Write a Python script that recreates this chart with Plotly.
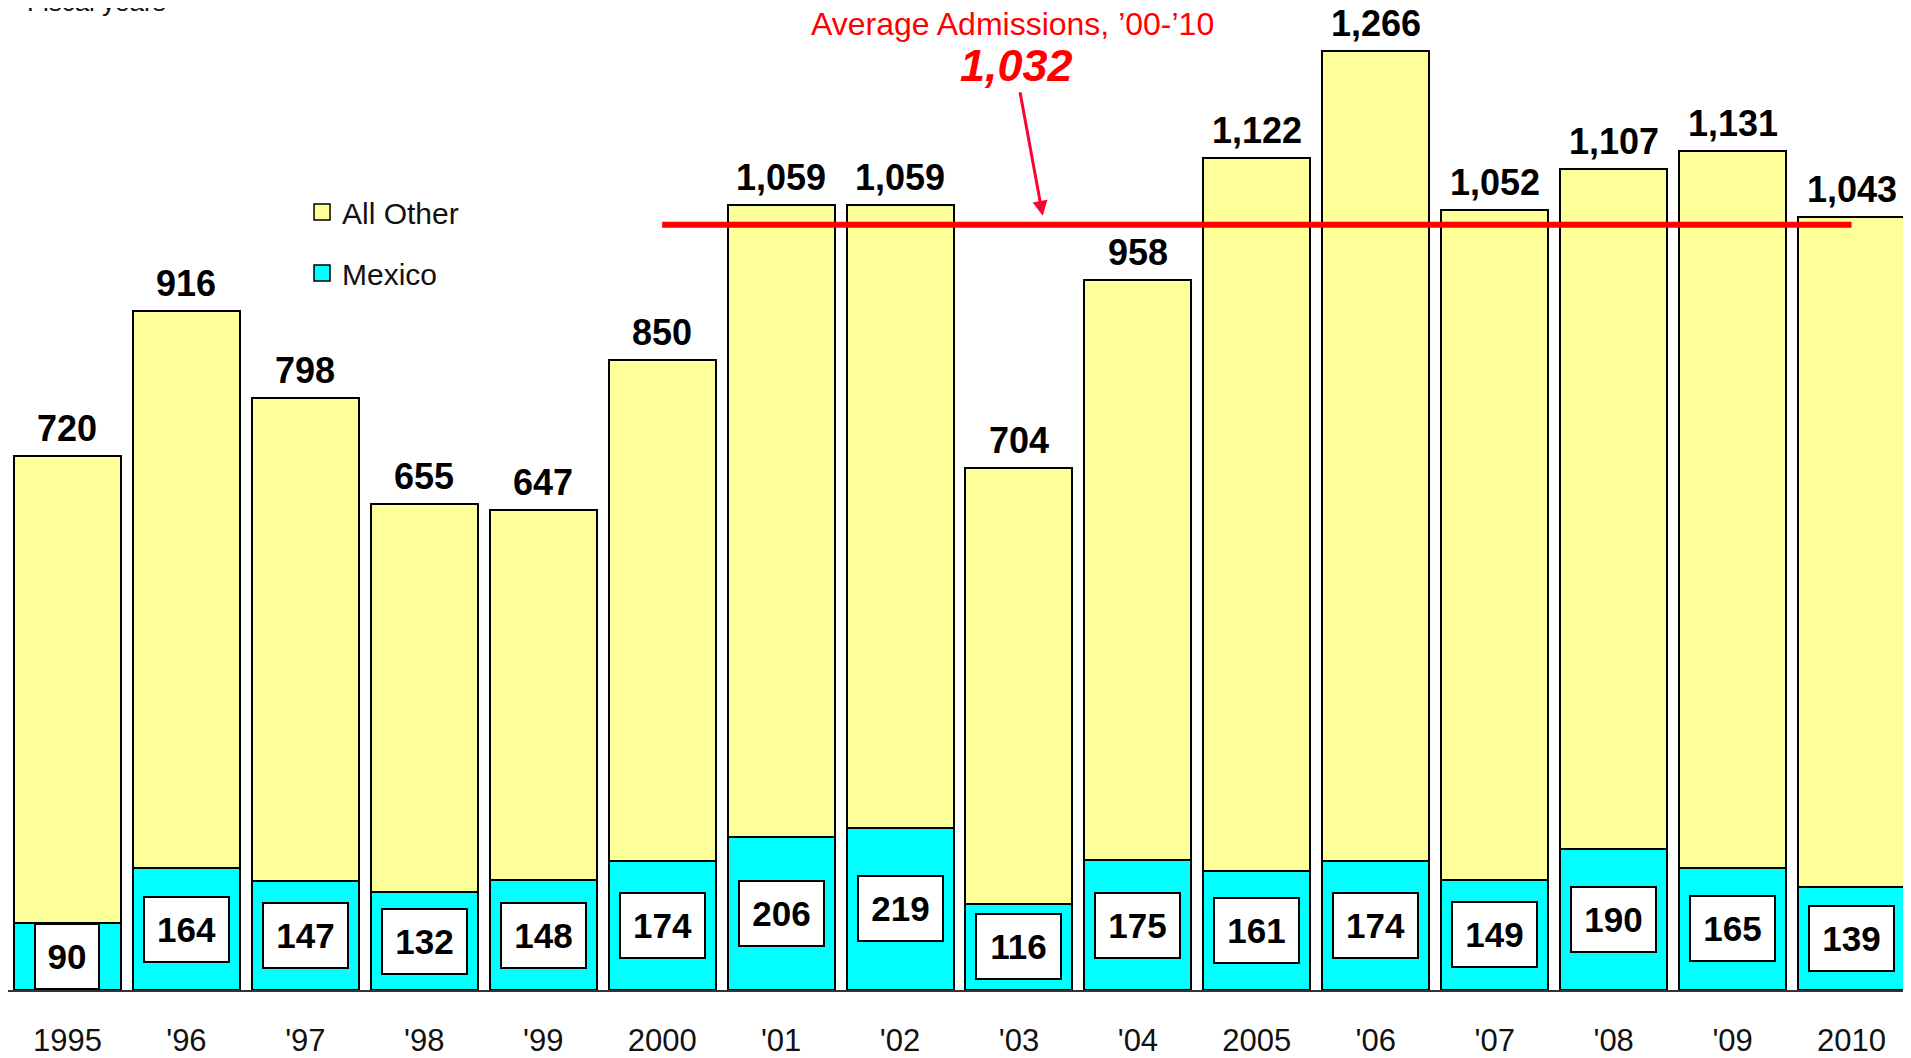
import plotly.graph_objects as go

years = ["1995", "'96", "'97", "'98", "'99", "2000", "'01", "'02",
         "'03", "'04", "2005", "'06", "'07", "'08", "'09", "2010"]
totals = [720, 916, 798, 655, 647, 850, 1059, 1059, 704, 958, 1122, 1266, 1052, 1107, 1131, 1043]
mexico = [90, 164, 147, 132, 148, 174, 206, 219, 116, 175, 161, 174, 149, 190, 165, 139]
all_other = [t - m for t, m in zip(totals, mexico)]

avg_start, avg_end = "2000", "2010"
avg_value = 1032

FONT = "Arial, 'Liberation Sans', sans-serif"
YELLOW = "#FFFF99"
CYAN = "#00FFFF"

fig = go.Figure()

fig.add_trace(go.Bar(x=years, y=mexico, name="Mexico", showlegend=False,
                     marker=dict(color=CYAN, line=dict(color="black", width=2))))
fig.add_trace(go.Bar(x=years, y=all_other, name="All Other", showlegend=False,
                     marker=dict(color=YELLOW, line=dict(color="black", width=2))))

# average line
fig.add_trace(go.Scatter(x=[avg_start, avg_end], y=[avg_value, avg_value], mode="lines",
                         line=dict(color="#FF0000", width=6), showlegend=False, hoverinfo="skip"))

# legend entries
for name, col in [("All Other", YELLOW), ("Mexico", CYAN)]:
    fig.add_trace(go.Scatter(x=[None], y=[None], mode="markers", name=name, legendgroup=name,
                             marker=dict(symbol="square", size=16, color=col,
                                         line=dict(color="black", width=1.5))))

# numeric-looking year strings would be read as indices, so annotate by position
annotations = []
for i, t in enumerate(totals):
    annotations.append(dict(x=i, y=t, text=f"{t:,}", showarrow=False, yanchor="bottom",
                            yshift=5, font=dict(size=36, color="black", family=FONT, weight="bold")))
for i, m in enumerate(mexico):
    annotations.append(dict(x=i, y=m / 2, text=str(m), showarrow=False, yanchor="middle",
                            width=len(str(m)) * 21 + 20, height=63,
                            bgcolor="white", bordercolor="black", borderwidth=2, borderpad=0,
                            font=dict(size=35, color="black", family=FONT, weight="bold")))

annotations += [
    dict(xref="paper", yref="paper", x=0.528, y=1.002, yanchor="middle",
         text="Average Admissions, ’00-’10",
         showarrow=False, font=dict(size=32, color="#FF0000", family=FONT)),
    dict(xref="paper", yref="paper", x=0.530, y=0.9586, yanchor="middle",
         text=f"<i>{avg_value:,}</i>",
         showarrow=False, font=dict(size=45, color="#FF0000", family=FONT, weight="bold")),
    dict(x=8.2, y=avg_value + 12, text="", showarrow=True, axref="pixel", ayref="pixel",
         ax=-23, ay=-125, arrowcolor="#FF0033", arrowwidth=3, arrowhead=2, arrowsize=1),
    dict(xref="paper", yref="paper", x=0.0089, y=1.0248, xanchor="left", yanchor="middle",
         text="Fiscal years",
         showarrow=False, font=dict(size=26, color="#111111", family=FONT)),
]

fig.update_layout(
    width=1903, height=1050,
    barmode="stack", bargap=0.1,
    margin=dict(l=0, r=0, t=18, b=66),
    paper_bgcolor="white", plot_bgcolor="white",
    font=dict(family=FONT, color="black"),
    showlegend=True,
    legend=dict(x=0.1545, y=0.834, xanchor="left", yanchor="top",
                traceorder="grouped", tracegroupgap=19,
                font=dict(size=30, family=FONT, color="#111111"), bgcolor="rgba(0,0,0,0)"),
    annotations=annotations,
    xaxis=dict(type="category", range=[-0.5, 15.5], showgrid=False, showline=True,
               linecolor="#333333", linewidth=2, ticks="", ticklabelstandoff=22,
               tickfont=dict(size=31, family=FONT, color="#111111")),
    yaxis=dict(range=[0, 1300], visible=False, showgrid=False, zeroline=False),
)

fig.write_html("out.html")
